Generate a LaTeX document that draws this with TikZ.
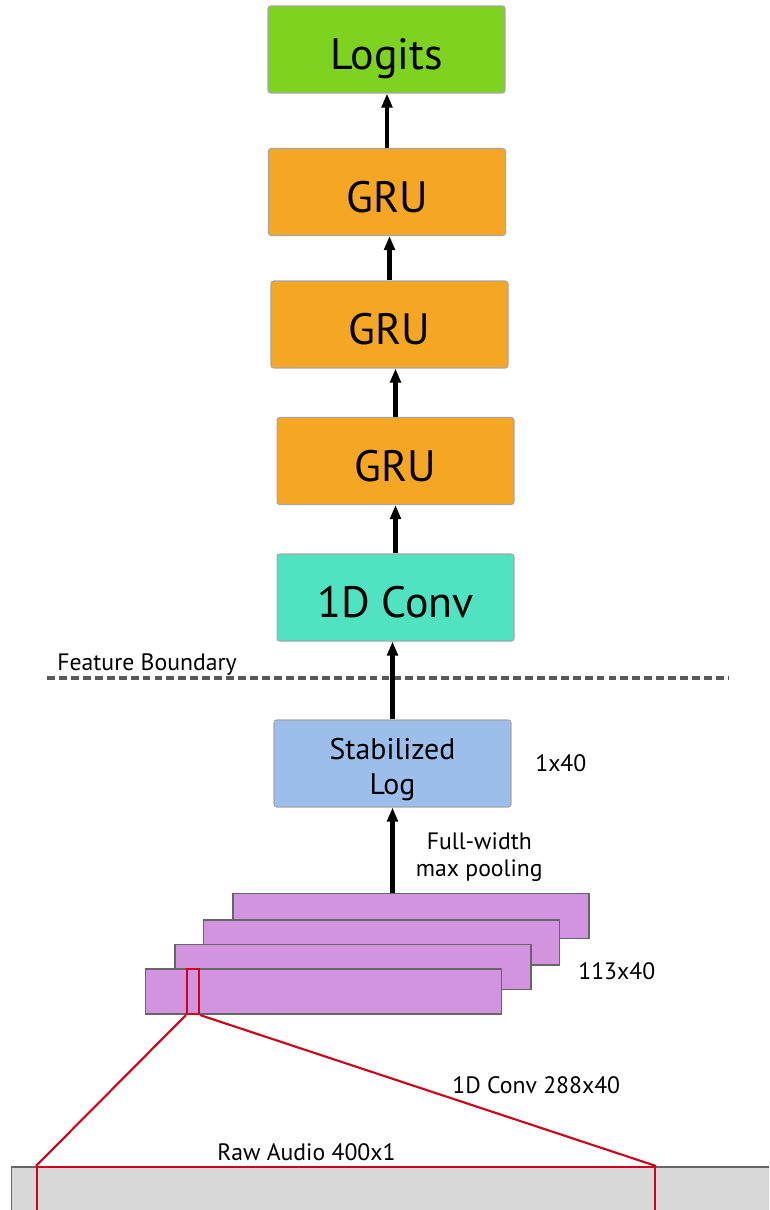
\documentclass[tikz,border=0pt]{standalone}
\usepackage{fontspec}
\setmainfont{PT Sans}
\usepackage{tikz}
\usetikzlibrary{arrows.meta, positioning}

\definecolor{logitgreen}{HTML}{7ED321}
\definecolor{gruorange}{HTML}{F5A623}
\definecolor{convteal}{HTML}{50E3C2}
\definecolor{logblue}{HTML}{9CBEEA}
\definecolor{mappurple}{HTML}{D294DF}
\definecolor{audiogray}{HTML}{D8D8D8}
\definecolor{winred}{HTML}{D0021B}

\begin{document}
\begin{tikzpicture}[
        x=0.02cm, y=-0.02cm,
        layer/.style={draw=gray!70, rectangle, rounded corners=1.5pt, line width=0.6pt, minimum width=4.74cm, minimum height=1.74cm, align=center, inner sep=0pt, font=\fontsize{25}{30}\selectfont, text height=23pt, text depth=0pt},
        fmap/.style={draw=black!60, line width=1pt, rectangle, fill=mappurple, minimum width=7.12cm, minimum height=0.9cm, inner sep=0pt},
        arrow/.style={-{Triangle[length=8pt, width=6pt]}, line width=2.6pt, draw=black},
        window/.style={draw=winred, line width=1.2pt},
        lbl/.style={font=\fontsize{13.5}{15}\selectfont, inner sep=0pt}
    ]
        \clip (0,0) rectangle (769,1210);

        % --- Modelo ---
        \node[layer, fill=logitgreen] (logits) at (386.5, 49.5)  {Logits};
        \node[layer, fill=gruorange]  (gru1)   at (387, 192)     {GRU};
        \node[layer, fill=gruorange]  (gru2)   at (389.5, 324.5) {GRU};
        \node[layer, fill=gruorange]  (gru3)   at (395.5, 461)   {GRU};
        \node[layer, fill=convteal]   (conv)   at (395.5, 597.5) {1D Conv};

        \draw[arrow] (gru1.north) -- (gru1.north |- logits.south);
        \draw[arrow] (gru2.north) -- (gru2.north |- gru1.south);
        \draw[arrow] (gru3.north) -- (gru3.north |- gru2.south);
        \draw[arrow] (conv.north) -- (conv.north |- gru3.south);

        % --- Feature Boundary ---
        \coordinate (fbleft)  at (47, 678);
        \coordinate (fbright) at (729, 678);
        \draw[black!65, line width=1.8pt, dash pattern=on 4.5pt off 2.3pt] (fbleft) -- (fbright);
        \node[lbl, anchor=west] (fblabel) at (57, 665) {Feature Boundary};

        % --- Features ---
        \node[layer, fill=logblue, font=\fontsize{17}{20}\selectfont, text height=39.5pt, text depth=4pt] (stab) at (392.5, 763.5) {Stabilized\\Log};
        \node[lbl, anchor=west] (stabdim) at (535, 763) {1x40};
        \draw[arrow] (stab.north) -- (stab.north |- conv.south);

        \node[fmap] (map4) at (411, 916)     {};
        \node[fmap] (map3) at (381.5, 942.5) {};
        \node[fmap] (map2) at (353, 967)     {};
        \node[fmap] (map1) at (323.5, 991.5) {};
        \node[lbl, anchor=west] (mapdim) at (578, 971) {113x40};

        \draw[arrow] (stab.south |- map4.north) -- (stab.south)
            node[midway, right=12pt, yshift=-4pt, lbl, align=center]{Full-width\\max pooling};

        % --- Audio ---
        \node[draw=black!60, line width=0.6pt, fill=audiogray, minimum width=15.8cm, minimum height=2cm, inner sep=0pt] (audio) at (406, 1217) {};
        \node[window, minimum width=12.36cm, minimum height=2cm, inner sep=0pt] (audiowin) at (346, 1217) {};
        \node[window, minimum width=0.24cm, minimum height=0.9cm, inner sep=0pt] (win) at (193, 991.5) {};

        \draw[window] (win.south west) -- (audiowin.north west);
        \draw[window] (win.south east) -- (audiowin.north east);

        \node[lbl, anchor=west] (convlbl)  at (452, 1085) {1D Conv 288x40};
        \node[lbl, anchor=west] (audiolbl) at (217, 1152) {Raw Audio 400x1};
    \end{tikzpicture}
\end{document}
